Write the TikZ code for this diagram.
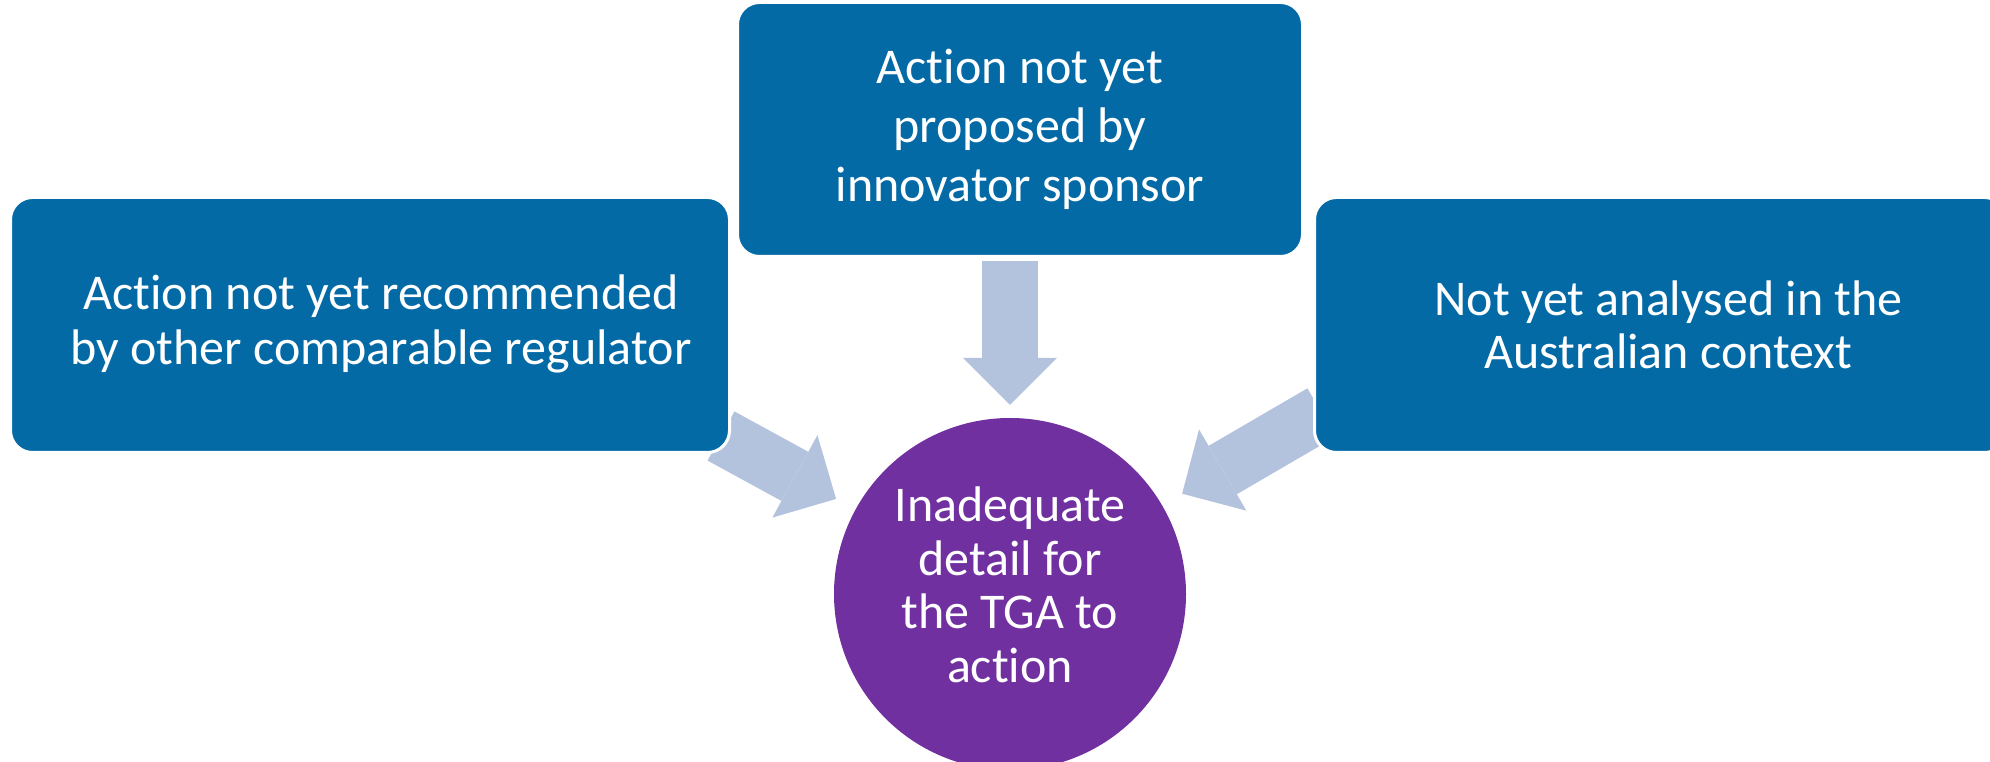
\documentclass[tikz,border=0pt]{standalone}
\usepackage{fontspec}
\setmainfont{Carlito}[Ligatures={NoCommon,NoRare,NoContextual}]
\usetikzlibrary{arrows.meta,positioning,backgrounds}

\definecolor{boxblue}{RGB}{3,106,166}
\definecolor{arrowblue}{RGB}{179,195,222}
\definecolor{hubpurple}{RGB}{112,48,160}

\begin{document}
\begin{tikzpicture}[
	x=1pt, y=1pt,
	box/.style={
		draw=white,
		line width=3pt,
		fill=boxblue,
		rounded corners=22pt,
		minimum height=255pt,
		inner sep=0pt
	},
	txt/.style={
		text=white,
		align=center,
		font=\fontsize{50}{53.5}\selectfont,
		inner sep=0pt
	},
	hub/.style={
		circle,
		fill=hubpurple,
		minimum size=352pt,
		inner sep=0pt
	},
	fat/.style={
		draw=arrowblue,
		line width=56pt,
		-{Triangle[width=94pt,length=47pt,line width=0pt]}
	}
	]
	
	\useasboundingbox (0,0) rectangle (1990,762);
	\clip (0,0) rectangle (1990,762);
	
	% Three causes round the outcome
	\node[box, minimum width=719pt] (lbox) at (370,437) {};
	\node[box, minimum width=565pt, minimum height=254pt] (tbox) at (1020,632.5) {};
	\node[box, minimum width=692pt] (rbox) at (1660.5,437) {};
	\node[hub] (hub) at (1010,168) {};
	
	% Texts
	\node[txt, font=\fontsize{50}{55}\selectfont, xshift=11pt, yshift=1pt] (ltext) at (lbox) {Action not yet recommended\\by other comparable regulator};
	\node[txt, font=\fontsize{50}{59}\selectfont] (ttext) at (tbox) {Action not yet\\proposed by\\innovator sponsor};
	\node[txt, xshift=8pt] (rtext) at (rbox) {Not yet analysed in the\\Australian context};
	\node[txt, yshift=9pt] (htext) at (hub) {Inadequate\\detail for\\the TGA to\\action};
	
	% Block arrows into the circle, behind the boxes
	\begin{scope}[on background layer]
		\draw[fat, shorten <=3pt, shorten >=13pt] (tbox.south -| hub) -- (hub);
		\draw[fat, shorten >=22pt] ([shift={(-10,18)}]lbox.south east) -- (hub);
		\draw[fat, shorten >=23pt] ([shift={(8.5,41.5)}]rbox.south west) -- (hub);
	\end{scope}
	
\end{tikzpicture}
\end{document}
